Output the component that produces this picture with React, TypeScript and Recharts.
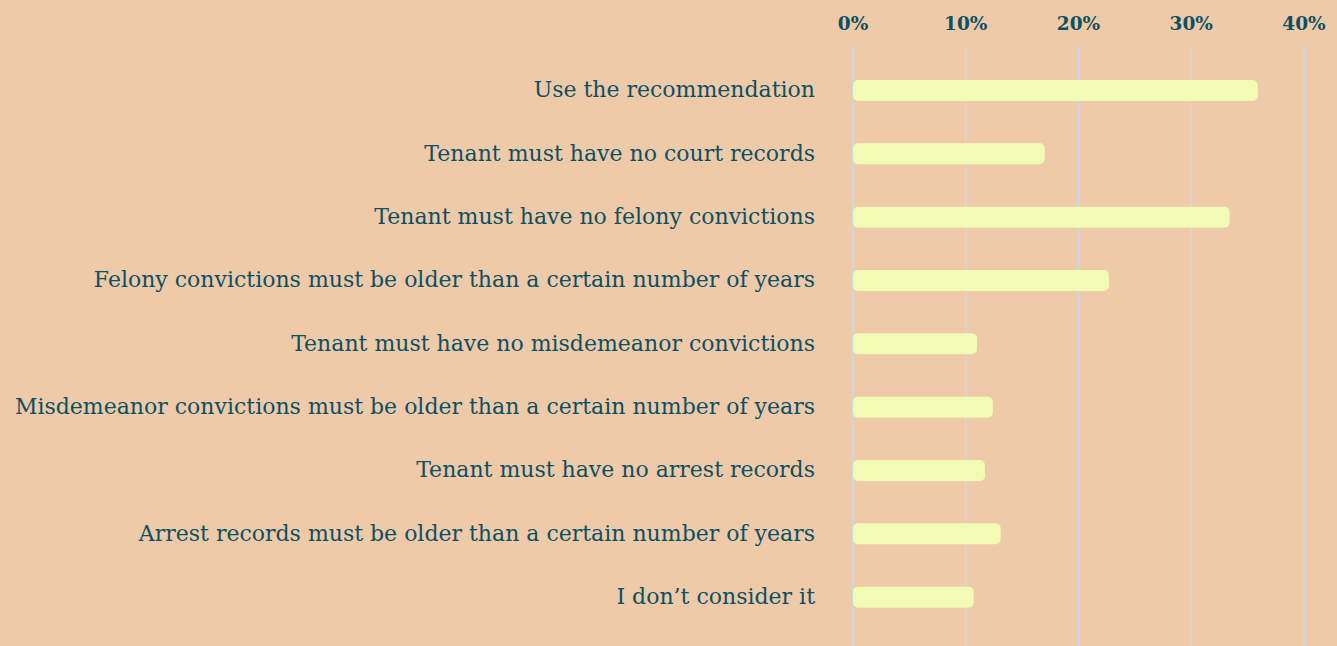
import { Bar, BarChart, CartesianGrid, XAxis, YAxis } from "recharts";

const answers = [
  "Use the recommendation",
  "Tenant must have no court records",
  "Tenant must have no felony convictions",
  "Felony convictions must be older than a certain number of years",
  "Tenant must have no misdemeanor convictions",
  "Misdemeanor convictions must be older than a certain number of years",
  "Tenant must have no arrest records",
  "Arrest records must be older than a certain number of years",
  "I don\u2019t consider it",
];

const shares = [35.9, 17.0, 33.4, 22.7, 11.0, 12.4, 11.7, 13.1, 10.7];

const percentTicks = [0, 10, 20, 30, 40];

const ink = "#0c5064";
const font = "'DejaVu Serif', serif";

export default function App() {
  const data = answers.map((answer, i) => ({ answer, share: shares[i] }));

  return (
    <div style={{ width: 1337, height: 646, background: "#eecaa9" }}>
      <style>{"body{margin:0}"}</style>
      <BarChart
        width={1337}
        height={646}
        data={data}
        layout="vertical"
        margin={{ top: 0, right: 33, bottom: 0, left: 0 }}
      >
        <CartesianGrid horizontal={false} stroke="#c9d8ee" strokeWidth={1.5} />
        <XAxis
          type="number"
          orientation="top"
          domain={[0, 40]}
          ticks={percentTicks}
          tickFormatter={(v: number) => `${v}%`}
          axisLine={false}
          tickLine={false}
          tickSize={0}
          tickMargin={15}
          height={45}
          tick={{ fill: ink, fontFamily: font, fontSize: 18.5, fontWeight: 600 }}
        />
        <YAxis
          type="category"
          dataKey="answer"
          width={853}
          axisLine={false}
          tickLine={false}
          tickSize={0}
          tickMargin={38}
          padding={{ top: 14, bottom: 17 }}
          interval={0}
          tick={{ fill: ink, fontFamily: font, fontSize: 22, dy: -1 }}
        />
        <Bar
          dataKey="share"
          fill="#f1fbb4"
          barSize={21}
          radius={5}
          isAnimationActive={false}
        />
      </BarChart>
    </div>
  );
}
